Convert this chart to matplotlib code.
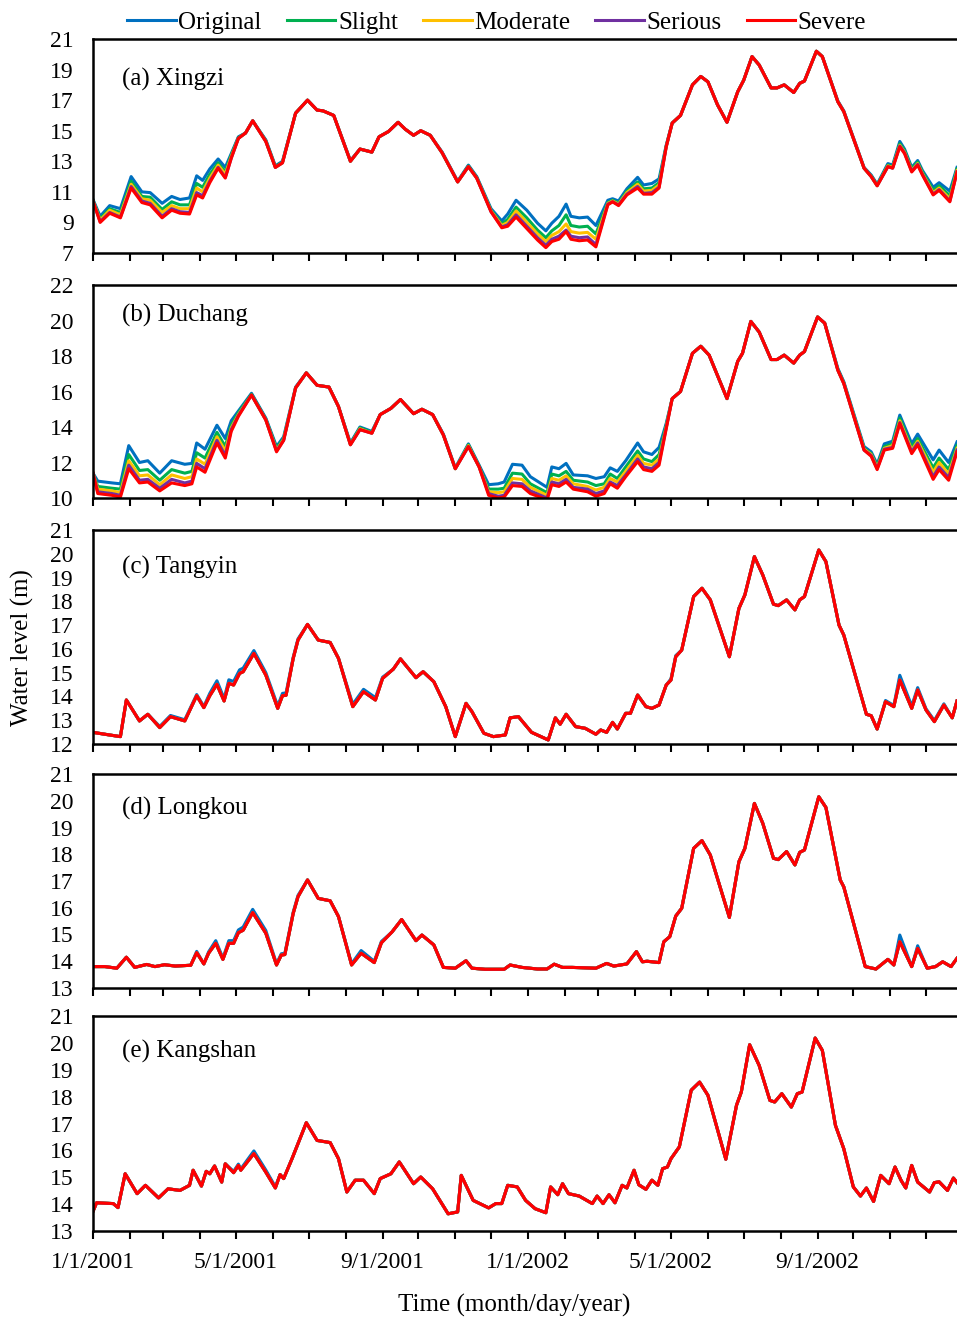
import numpy as np
import matplotlib
matplotlib.use('Agg')
import matplotlib.pyplot as plt
import matplotlib.dates as mdates
from matplotlib.ticker import FuncFormatter

plt.rcParams['font.family'] = 'Liberation Serif'

# scenarios, drawn in this order (Severe ends up on top)
scenarios = ['Original', 'Slight', 'Moderate', 'Serious', 'Severe']
colors = ['#0070C0', '#00B050', '#FFC000', '#7030A0', '#FF0000']

start = np.datetime64('2001-01-01')

# ---- (a) Xingzi : day offset from 1/1/2001, Severe level, gaps of the other runs above Severe
a_days = [0, 6, 14, 23, 32, 41, 48, 58, 66, 73,
          81, 87, 92, 98, 105, 111, 116, 122, 128, 134,
          145, 153, 159, 170, 180, 188, 193, 202, 216, 224,
          234, 240, 248, 256, 262, 269, 275, 283, 293, 306,
          315, 322, 334, 343, 348, 355, 364, 373, 380, 385,
          391, 397, 401, 408, 415, 422, 432, 436, 441, 448,
          457, 462, 469, 475, 481, 486, 493, 503, 510, 516,
          524, 532, 541, 546, 553, 559, 569, 574, 580, 588,
          593, 597, 607, 612, 625, 630, 647, 653, 658, 667,
          671, 677, 681, 687, 692, 696, 705, 710, 719, 725]
a_severe = [10.4, 9.0, 9.6, 9.3, 11.25, 10.3, 10.15, 9.3, 9.8, 9.6,
            9.55, 10.8, 10.6, 11.6, 12.55, 11.9, 13.2, 14.5, 14.85, 15.65,
            14.3, 12.6, 12.9, 16.15, 17.0, 16.35, 16.3, 16.0, 13.0, 13.8,
            13.6, 14.6, 14.95, 15.55, 15.1, 14.7, 15.0, 14.7, 13.55, 11.65,
            12.65, 11.9, 9.7, 8.65, 8.75, 9.35, 8.6, 7.85, 7.35, 7.75,
            7.9, 8.4, 7.9, 7.8, 7.85, 7.4, 10.15, 10.35, 10.1, 10.8,
            11.25, 10.85, 10.85, 11.25, 13.95, 15.5, 16.0, 18.0, 18.55, 18.2,
            16.7, 15.55, 17.55, 18.3, 19.85, 19.3, 17.8, 17.8, 18.0, 17.5,
            18.1, 18.25, 20.2, 19.85, 16.9, 16.25, 12.55, 12.0, 11.4, 12.65,
            12.55, 13.95, 13.5, 12.3, 12.75, 12.1, 10.8, 11.1, 10.35, 12.3]
a_gap_original = [0.1, 0.4, 0.5, 0.6, 0.75, 0.7, 0.8, 0.95, 0.9, 0.9,
                  1.05, 1.25, 1.15, 0.9, 0.6, 0.7, 0.3, 0.1, 0, 0,
                  0.1, 0.1, 0.1, 0, 0, 0, 0, 0, 0.05, 0,
                  0, 0, 0, 0, 0, 0, 0, 0, 0.05, 0.05,
                  0.1, 0.1, 0.2, 0.45, 0.8, 1.1, 1.2, 1.1, 1.1, 1.2,
                  1.5, 1.8, 1.5, 1.5, 1.5, 1.4, 0.3, 0.2, 0.3, 0.4,
                  0.7, 0.6, 0.7, 0.6, 0.1, 0, 0, 0, 0, 0,
                  0, 0, 0, 0, 0, 0, 0, 0, 0, 0,
                  0, 0, 0, 0, 0.05, 0.05, 0.05, 0.1, 0.1, 0.2,
                  0.2, 0.35, 0.3, 0.3, 0.3, 0.3, 0.5, 0.5, 0.7, 0.3]
a_gap_slight = [0.05, 0.25, 0.3, 0.35, 0.45, 0.4, 0.5, 0.55, 0.55, 0.55,
                0.6, 0.75, 0.7, 0.55, 0.35, 0.4, 0.2, 0.05, 0, 0,
                0.05, 0.05, 0.05, 0, 0, 0, 0, 0, 0, 0,
                0, 0, 0, 0, 0, 0, 0, 0, 0, 0,
                0.05, 0.05, 0.1, 0.25, 0.45, 0.65, 0.7, 0.65, 0.65, 0.7,
                0.9, 1.1, 0.9, 0.9, 0.9, 0.85, 0.15, 0.1, 0.15, 0.25,
                0.4, 0.35, 0.4, 0.35, 0.05, 0, 0, 0, 0, 0,
                0, 0, 0, 0, 0, 0, 0, 0, 0, 0,
                0, 0, 0, 0, 0, 0, 0, 0.05, 0.05, 0.1,
                0.1, 0.2, 0.2, 0.2, 0.2, 0.2, 0.3, 0.3, 0.4, 0.2]
a_gap_moderate = [0, 0.15, 0.2, 0.2, 0.25, 0.25, 0.3, 0.35, 0.3, 0.3,
                  0.35, 0.45, 0.4, 0.3, 0.2, 0.25, 0.1, 0, 0, 0,
                  0, 0, 0, 0, 0, 0, 0, 0, 0, 0,
                  0, 0, 0, 0, 0, 0, 0, 0, 0, 0,
                  0, 0, 0.05, 0.15, 0.25, 0.4, 0.4, 0.4, 0.4, 0.4,
                  0.5, 0.5, 0.5, 0.5, 0.5, 0.5, 0.1, 0.05, 0.1, 0.15,
                  0.25, 0.2, 0.25, 0.2, 0, 0, 0, 0, 0, 0,
                  0, 0, 0, 0, 0, 0, 0, 0, 0, 0,
                  0, 0, 0, 0, 0, 0, 0, 0, 0, 0.05,
                  0.05, 0.1, 0.1, 0.1, 0.1, 0.1, 0.15, 0.15, 0.2, 0.1]
a_gap_serious = [0, 0.05, 0.05, 0.05, 0.1, 0.1, 0.1, 0.1, 0.1, 0.1,
                 0.1, 0.15, 0.15, 0.1, 0.05, 0.05, 0, 0, 0, 0,
                 0, 0, 0, 0, 0, 0, 0, 0, 0, 0,
                 0, 0, 0, 0, 0, 0, 0, 0, 0, 0,
                 0, 0, 0, 0.05, 0.1, 0.15, 0.15, 0.15, 0.15, 0.15,
                 0.2, 0.1, 0.2, 0.2, 0.2, 0.15, 0.05, 0, 0.05, 0.05,
                 0.1, 0.05, 0.1, 0.05, 0, 0, 0, 0, 0, 0,
                 0, 0, 0, 0, 0, 0, 0, 0, 0, 0,
                 0, 0, 0, 0, 0, 0, 0, 0, 0, 0,
                 0, 0.05, 0.05, 0.05, 0.05, 0.05, 0.05, 0.05, 0.05, 0]

# ---- (b) Duchang
b_days = [0, 4, 16, 23, 30, 39, 46, 56, 66, 77,
          83, 87, 94, 104, 111, 116, 122, 133, 145, 154,
          160, 170, 179, 188, 198, 206, 216, 224, 234, 241,
          250, 258, 269, 276, 285, 294, 304, 315, 324, 332,
          340, 345, 352, 360, 367, 381, 385, 391, 397, 403,
          415, 422, 429, 434, 440, 447, 457, 462, 469, 475,
          481, 486, 493, 503, 510, 517, 532, 541, 545, 552,
          559, 569, 574, 580, 588, 593, 597, 608, 614, 625,
          630, 647, 653, 658, 664, 671, 677, 687, 692, 705,
          710, 718, 725]
b_severe = [11.4, 10.25, 10.15, 10.05, 11.65, 10.85, 10.9, 10.4, 10.85, 10.7,
            10.8, 11.75, 11.45, 13.1, 12.25, 13.75, 14.6, 15.8, 14.4, 12.6,
            13.25, 16.2, 17.05, 16.35, 16.25, 15.15, 13.0, 13.85, 13.65, 14.7,
            15.05, 15.55, 14.75, 15.0, 14.7, 13.55, 11.65, 12.9, 11.75, 10.15,
            10.0, 10.05, 10.7, 10.65, 10.25, 9.9, 10.75, 10.65, 10.9, 10.5,
            10.35, 10.1, 10.25, 10.8, 10.55, 11.2, 12.05, 11.6, 11.5, 11.85,
            13.9, 15.6, 16.0, 18.15, 18.55, 18.05, 15.6, 17.7, 18.15, 19.95,
            19.35, 17.8, 17.8, 18.05, 17.6, 18.05, 18.25, 20.2, 19.85, 17.2,
            16.45, 12.7, 12.35, 11.6, 12.7, 12.8, 14.2, 12.5, 13.0, 11.05,
            11.6, 11.0, 12.6]
b_gap_original = [0, 0.7, 0.7, 0.75, 1.3, 1.15, 1.2, 1.0, 1.25, 1.2,
                  1.15, 1.35, 1.3, 1.0, 1.1, 0.6, 0.3, 0.1, 0.1, 0.3,
                  0.2, 0.05, 0, 0, 0, 0, 0.1, 0.15, 0.1, 0,
                  0, 0, 0, 0, 0, 0.05, 0.05, 0.15, 0.1, 0.6,
                  0.8, 0.85, 1.2, 1.2, 0.95, 0.7, 1.0, 1.0, 1.05, 0.8,
                  0.9, 1.0, 0.95, 0.9, 0.95, 0.9, 1.05, 1.0, 0.95, 1.0,
                  0.3, 0, 0, 0, 0, 0, 0, 0, 0, 0,
                  0, 0, 0, 0, 0, 0, 0, 0, 0, 0.1,
                  0.1, 0.2, 0.25, 0.3, 0.35, 0.4, 0.47, 0.56, 0.6, 1.1,
                  1.1, 1.0, 0.56]
b_gap_slight = [0, 0.4, 0.4, 0.45, 0.8, 0.7, 0.7, 0.6, 0.75, 0.7,
                0.7, 0.8, 0.8, 0.6, 0.65, 0.35, 0.2, 0.05, 0.05, 0.2,
                0.1, 0, 0, 0, 0, 0, 0.05, 0.1, 0.05, 0,
                0, 0, 0, 0, 0, 0, 0, 0.1, 0.05, 0.35,
                0.5, 0.5, 0.7, 0.7, 0.55, 0.4, 0.6, 0.6, 0.6, 0.5,
                0.55, 0.6, 0.55, 0.55, 0.55, 0.55, 0.6, 0.6, 0.55, 0.6,
                0.2, 0, 0, 0, 0, 0, 0, 0, 0, 0,
                0, 0, 0, 0, 0, 0, 0, 0, 0, 0.05,
                0.05, 0.1, 0.15, 0.2, 0.2, 0.25, 0.3, 0.35, 0.35, 0.65,
                0.65, 0.6, 0.35]
b_gap_moderate = [0, 0.25, 0.25, 0.25, 0.45, 0.4, 0.4, 0.35, 0.45, 0.4,
                  0.4, 0.45, 0.45, 0.35, 0.4, 0.2, 0.1, 0, 0, 0.1,
                  0.05, 0, 0, 0, 0, 0, 0, 0.05, 0, 0,
                  0, 0, 0, 0, 0, 0, 0, 0.05, 0, 0.2,
                  0.3, 0.3, 0.4, 0.4, 0.35, 0.25, 0.35, 0.35, 0.35, 0.3,
                  0.3, 0.35, 0.35, 0.3, 0.35, 0.3, 0.35, 0.35, 0.35, 0.35,
                  0.1, 0, 0, 0, 0, 0, 0, 0, 0, 0,
                  0, 0, 0, 0, 0, 0, 0, 0, 0, 0,
                  0, 0.05, 0.1, 0.1, 0.1, 0.15, 0.15, 0.2, 0.2, 0.4,
                  0.4, 0.35, 0.2]
b_gap_serious = [0, 0.1, 0.1, 0.1, 0.2, 0.15, 0.15, 0.15, 0.2, 0.15,
                 0.15, 0.2, 0.2, 0.15, 0.15, 0.1, 0.05, 0, 0, 0.05,
                 0, 0, 0, 0, 0, 0, 0, 0, 0, 0,
                 0, 0, 0, 0, 0, 0, 0, 0, 0, 0.1,
                 0.1, 0.1, 0.15, 0.15, 0.15, 0.1, 0.15, 0.15, 0.15, 0.1,
                 0.15, 0.15, 0.15, 0.1, 0.15, 0.1, 0.15, 0.15, 0.15, 0.15,
                 0.05, 0, 0, 0, 0, 0, 0, 0, 0, 0,
                 0, 0, 0, 0, 0, 0, 0, 0, 0, 0,
                 0, 0, 0.05, 0.05, 0.05, 0.05, 0.05, 0.1, 0.1, 0.15,
                 0.15, 0.15, 0.1]

# ---- (c) Tangyin
c_days = [0, 10, 23, 28, 39, 46, 56, 65, 77, 87,
          93, 98, 104, 110, 114, 118, 123, 126, 135, 145,
          155, 159, 162, 168, 172, 180, 189, 199, 206, 218,
          227, 237, 243, 252, 258, 271, 277, 286, 296, 304,
          313, 318, 328, 336, 346, 350, 357, 368, 382, 388,
          392, 397, 405, 413, 422, 426, 431, 436, 440, 447,
          451, 457, 464, 469, 475, 481, 485, 489, 494, 504,
          511, 518, 534, 542, 547, 555, 562, 571, 575, 582,
          589, 593, 597, 609, 615, 626, 630, 649, 653, 658,
          665, 672, 677, 687, 692, 699, 706, 714, 721, 725]
c_severe = [12.49, 12.41, 12.31, 13.85, 12.97, 13.25, 12.69, 13.15, 12.97, 14.03,
            13.53, 14.03, 14.51, 13.81, 14.55, 14.48, 14.97, 15.04, 15.81, 14.9,
            13.5, 14.03, 14.05, 15.6, 16.37, 17.03, 16.37, 16.27, 15.6, 13.57,
            14.2, 13.85, 14.76, 15.15, 15.58, 14.79, 15.04, 14.62, 13.57, 12.31,
            13.71, 13.36, 12.45, 12.31, 12.38, 13.1, 13.15, 12.49, 12.17, 13.1,
            12.83, 13.25, 12.73, 12.66, 12.41, 12.59, 12.49, 12.91, 12.63, 13.29,
            13.29, 14.06, 13.57, 13.5, 13.64, 14.48, 14.69, 15.67, 15.95, 18.2,
            18.55, 18.06, 15.67, 17.7, 18.27, 19.88, 19.11, 17.88, 17.82, 18.06,
            17.64, 18.06, 18.2, 20.16, 19.67, 17.0, 16.58, 13.25, 13.19, 12.63,
            13.78, 13.57, 14.69, 13.5, 14.27, 13.43, 12.94, 13.64, 13.1, 13.81]
c_gap_original = [0, 0, 0, 0, 0, 0, 0.05, 0.05, 0.05, 0.05,
                  0.05, 0.1, 0.15, 0.1, 0.15, 0.15, 0.15, 0.15, 0.12, 0.1,
                  0.1, 0.1, 0.1, 0.05, 0.05, 0, 0, 0, 0, 0.1,
                  0.1, 0.1, 0.05, 0, 0, 0, 0, 0, 0, 0,
                  0, 0, 0, 0, 0, 0, 0, 0, 0, 0,
                  0, 0, 0, 0, 0, 0, 0, 0, 0, 0,
                  0, 0, 0, 0, 0, 0, 0.05, 0.05, 0, 0,
                  0, 0, 0, 0, 0, 0, 0, 0, 0, 0,
                  0, 0, 0, 0, 0, 0, 0, 0, 0, 0,
                  0.05, 0.05, 0.2, 0.1, 0.1, 0.05, 0.05, 0.05, 0, 0]

# ---- (d) Longkou
d_days = [0, 10, 20, 28, 35, 45, 52, 60, 69, 82,
          87, 93, 97, 103, 109, 114, 118, 122, 126, 134,
          145, 154, 158, 161, 168, 172, 180, 189, 199, 206,
          217, 225, 236, 242, 251, 259, 271, 276, 286, 294,
          304, 313, 318, 329, 345, 350, 360, 373, 381, 387,
          394, 402, 422, 431, 437, 448, 456, 461, 465, 475,
          479, 484, 489, 494, 504, 511, 518, 534, 542, 547,
          555, 562, 571, 575, 582, 589, 593, 597, 609, 615,
          627, 630, 648, 657, 667, 672, 677, 687, 692, 700,
          707, 713, 720, 725]
d_severe = [13.8, 13.8, 13.74, 14.15, 13.77, 13.88, 13.8, 13.87, 13.82, 13.85,
            14.32, 13.9, 14.3, 14.67, 14.07, 14.67, 14.67, 15.07, 15.16, 15.82,
            15.05, 13.86, 14.23, 14.25, 15.79, 16.41, 17.04, 16.35, 16.26, 15.67,
            13.86, 14.3, 13.95, 14.69, 15.1, 15.56, 14.77, 14.98, 14.61, 13.77,
            13.74, 14.02, 13.74, 13.7, 13.7, 13.86, 13.77, 13.71, 13.71, 13.89,
            13.77, 13.77, 13.74, 13.92, 13.82, 13.9, 14.36, 13.98, 14.0, 13.95,
            14.73, 14.92, 15.69, 15.98, 18.22, 18.51, 17.97, 15.64, 17.72, 18.22,
            19.9, 19.16, 17.85, 17.8, 18.1, 17.6, 18.07, 18.16, 20.15, 19.75,
            17.04, 16.78, 13.8, 13.71, 14.07, 13.86, 14.73, 13.8, 14.48, 13.74,
            13.8, 13.98, 13.8, 14.11]
d_gap_original = [0, 0, 0, 0, 0, 0, 0, 0, 0, 0,
                  0.05, 0, 0.05, 0.1, 0.05, 0.1, 0.1, 0.1, 0.12, 0.12,
                  0.1, 0.05, 0.05, 0.05, 0.05, 0.05, 0, 0, 0, 0,
                  0.05, 0.1, 0.05, 0.05, 0, 0, 0, 0, 0, 0,
                  0, 0, 0, 0, 0, 0, 0, 0, 0, 0,
                  0, 0, 0, 0, 0, 0, 0, 0, 0, 0,
                  0, 0, 0, 0, 0, 0, 0, 0, 0, 0,
                  0, 0, 0, 0, 0, 0, 0, 0, 0, 0,
                  0, 0, 0, 0, 0, 0, 0.25, 0, 0.1, 0,
                  0, 0, 0, 0]

# ---- (e) Kangshan
e_days = [0, 3, 17, 21, 27, 37, 44, 55, 63, 73,
          81, 84, 91, 95, 98, 102, 108, 111, 118, 122,
          124, 135, 145, 153, 157, 160, 167, 179, 188, 199,
          206, 213, 220, 227, 236, 241, 250, 257, 269, 275,
          285, 298, 306, 309, 319, 332, 338, 343, 348, 356,
          363, 371, 380, 384, 390, 394, 399, 408, 419, 423,
          428, 433, 438, 444, 448, 454, 458, 464, 469, 474,
          478, 482, 485, 492, 502, 509, 516, 531, 540, 544,
          551, 559, 568, 572, 578, 586, 591, 595, 606, 612,
          623, 630, 638, 644, 649, 655, 661, 668, 673, 678,
          682, 687, 692, 702, 706, 710, 717, 722, 725]
e_severe = [13.73, 14.05, 14.02, 13.87, 15.13, 14.39, 14.7, 14.23, 14.57, 14.51,
            14.7, 15.26, 14.67, 15.22, 15.13, 15.42, 14.82, 15.5, 15.17, 15.44,
            15.26, 15.88, 15.19, 14.6, 15.1, 14.95, 15.69, 17.03, 16.37, 16.29,
            15.69, 14.45, 14.89, 14.89, 14.39, 14.95, 15.13, 15.57, 14.76, 15.01,
            14.57, 13.64, 13.71, 15.07, 14.14, 13.86, 14.02, 14.02, 14.7, 14.64,
            14.14, 13.83, 13.68, 14.64, 14.35, 14.76, 14.39, 14.3, 14.02, 14.3,
            14.02, 14.35, 14.05, 14.7, 14.6, 15.26, 14.72, 14.55, 14.89, 14.7,
            15.32, 15.38, 15.69, 16.13, 18.24, 18.54, 18.05, 15.67, 17.68, 18.17,
            19.93, 19.16, 17.86, 17.8, 18.11, 17.61, 18.11, 18.17, 20.18, 19.72,
            16.93, 16.06, 14.64, 14.3, 14.6, 14.1, 15.07, 14.76, 15.38, 14.89,
            14.6, 15.44, 14.82, 14.45, 14.8, 14.83, 14.51, 14.97, 14.8]
e_gap_original = [0, 0, 0, 0, 0, 0, 0, 0, 0, 0,
                  0, 0, 0, 0, 0, 0, 0, 0, 0.05, 0.05,
                  0.05, 0.1, 0.08, 0.05, 0, 0, 0, 0, 0, 0,
                  0, 0, 0, 0, 0, 0, 0, 0, 0, 0,
                  0, 0, 0, 0, 0, 0, 0, 0, 0, 0,
                  0, 0, 0, 0, 0, 0, 0, 0, 0, 0,
                  0, 0, 0, 0, 0, 0, 0, 0, 0, 0,
                  0, 0, 0, 0, 0, 0, 0, 0, 0, 0,
                  0, 0, 0, 0, 0, 0, 0, 0, 0, 0,
                  0, 0, 0, 0, 0, 0, 0, 0, 0, 0,
                  0, 0, 0, 0, 0, 0, 0, 0, 0]

panel_names = ['(a) Xingzi', '(b) Duchang', '(c) Tangyin', '(d) Longkou', '(e) Kangshan']
panel_ylims = [(7, 21, 2), (10, 22, 2), (12, 21, 1), (13, 21, 1), (13, 21, 1)]

panels = [
    (a_days, a_severe, [a_gap_original, a_gap_slight, a_gap_moderate, a_gap_serious]),
    (b_days, b_severe, [b_gap_original, b_gap_slight, b_gap_moderate, b_gap_serious]),
    (c_days, c_severe, [c_gap_original, None, None, None]),
    (d_days, d_severe, [d_gap_original, None, None, None]),
    (e_days, e_severe, [e_gap_original, None, None, None]),
]

# pixel boxes (top, bottom) of each panel in the 957x1317 picture
W, H = 957, 1317
boxes = [(39, 253), (285, 498), (530, 744), (774, 988), (1016, 1231)]
label_y = [0.81, 0.855, 0.825, 0.84, 0.835]

fig = plt.figure(figsize=(W / 100, H / 100), dpi=100)


def fmt_date(x, pos=None):
    d = mdates.num2date(x)
    return f'{d.month}/{d.day}/{d.year}'


for i, ((days, severe, gaps), (top, bot)) in enumerate(zip(panels, boxes)):
    ax = fig.add_axes([93 / W, 1 - bot / H, (W - 93) / W, (bot - top) / H])
    dates = start + np.array(days).astype('timedelta64[D]')
    sev = np.array(severe)
    for name, col, gap in zip(scenarios, colors, gaps + [None]):
        vals = sev if gap is None else sev + np.array(gap)
        ax.plot(dates, vals, color=col, lw=2.2, solid_joinstyle='round',
                label=name)

    lo, hi, step = panel_ylims[i]
    ax.set_ylim(lo, hi)
    ax.set_yticks(np.arange(lo, hi + step, step))
    ax.set_xlim(start, start + np.timedelta64(725, 'D'))

    ax.xaxis.set_major_locator(mdates.MonthLocator(bymonth=[1, 5, 9]))
    ax.xaxis.set_minor_locator(mdates.MonthLocator())
    ax.xaxis.set_major_formatter(FuncFormatter(fmt_date))
    ax.tick_params(axis='x', which='both', direction='out', length=6,
                   width=1.5, labelsize=17, pad=9)
    ax.tick_params(axis='y', length=0, pad=14, labelsize=17)
    if i < 4:
        ax.tick_params(axis='x', labelbottom=False)

    ax.spines['right'].set_visible(False)
    for s in ['top', 'left', 'bottom']:
        ax.spines[s].set_linewidth(1.8)

    ax.text(0.034, label_y[i], panel_names[i], transform=ax.transAxes,
            fontsize=18, va='center', ha='left')

handles, labels = ax.get_legend_handles_labels()
fig.legend(handles, labels, loc='center', bbox_to_anchor=(0.519, 0.983),
           ncol=5, frameon=False, fontsize=18, handlelength=1.95,
           handletextpad=0.1, columnspacing=1.0)

fig.text(22 / W, 1 - 648 / H, 'Water level (m)', rotation=90,
         ha='center', va='center', fontsize=18)
fig.text(514 / W, 1 - 1305 / H, 'Time (month/day/year)',
         ha='center', va='center', fontsize=18)

fig.savefig('out.png', dpi=100)
